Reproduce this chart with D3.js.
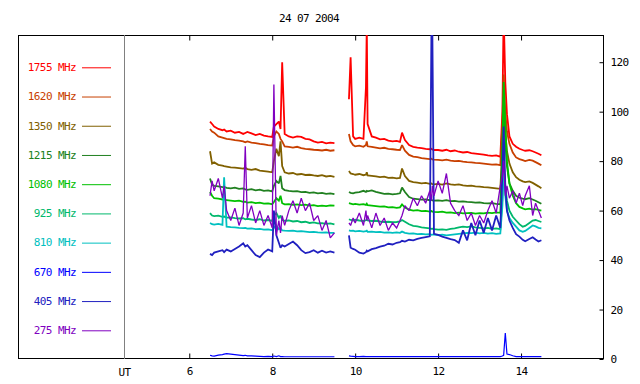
<!DOCTYPE html>
<html><head><meta charset="utf-8">
<script src="https://cdn.jsdelivr.net/npm/d3@7"></script>
<style>
body{margin:0;background:#fff}
svg text{font-family:"DejaVu Sans Mono",monospace;font-size:11px;letter-spacing:-0.6px;fill:#000}
</style>
</head><body>
<svg id="c" width="640" height="384"></svg>
<script>
const title = "24 07 2004";
const freqLabels = ["1755 MHz","1620 MHz","1350 MHz","1215 MHz","1080 MHz","925 MHz","810 MHz","670 MHz","405 MHz","275 MHz"];
const colors = ["#ff0000","#c84000","#806000","#208020","#00c000","#00b86c","#00c0c0","#0000ff","#2020c0","#8000c0"];
const xTicks = [6,8,10,12,14];
const yTicks = [0,20,40,60,80,100,120];
const axisLabel = "UT";

const timesA = [6.5,6.55,6.6,6.7,6.8,6.84,6.9,7.0,7.1,7.2,7.3,7.35,7.4,7.5,7.6,7.7,7.8,7.9,8.0,8.04,8.1,8.16,8.2,8.24,8.3,8.4,8.5,8.6,8.7,8.8,8.9,9.0,9.1,9.2,9.3,9.4,9.5];
const timesB = [9.85,9.89,9.95,10.0,10.1,10.2,10.26,10.28,10.3,10.4,10.5,10.6,10.7,10.8,10.9,11.0,11.08,11.13,11.2,11.3,11.4,11.5,11.6,11.7,11.8,11.84,11.86,11.9,12.0,12.1,12.2,12.3,12.4,12.5,12.6,12.7,12.8,12.9,13.0,13.1,13.2,13.3,13.4,13.5,13.55,13.58,13.62,13.66,13.72,13.8,13.88,13.96,14.04,14.1,14.2,14.28,14.35,14.42,14.49];

const f1755A = [96,95,94,93,92.5,92.8,92,92.3,91.5,91.8,91,91.4,91.8,91.2,90.5,91,90.3,90,89.8,94,95,96,93,120,91,90,89.5,90,89.8,89,88.8,88,87.5,87.8,87.2,87.5,87.3];
const f1755B = [105,122,90,89,89.5,89,110,135,95,90,89.5,88.8,89,88.3,88,88.2,87.8,91.5,88.5,86.5,85.8,85.5,85.3,85,84.8,85,84.7,84.5,84.5,84.2,84.6,84,84.3,83.8,83.5,83.7,83.2,83,82.8,82.6,82.3,82.1,82.3,81.8,100,140,112,99,90,87,85.8,85,84.5,84.2,84.4,84,83.5,83,82.4];

const f1620A = [93,92,91.5,90,89.5,89.3,89,88.8,88.5,88.3,88,87.6,88,87.5,87.3,87,86.8,86.5,86.3,90,92,91,89,88,86,85.8,85.5,85.8,85.3,85,84.8,84.6,84.5,84.3,84.6,84.2,84.4];
const f1620B = [91,88,86.5,86,86.3,85.8,86.5,88,86,85.8,85.5,85.2,85.4,85,84.8,84.6,84.5,86.5,84.2,82.5,81.8,81.6,81.2,81,80.8,81,80.7,80.6,80.5,80.3,80.6,80.2,80,80.1,79.8,79.6,79.5,79.3,79.2,79,78.8,78.6,78.7,78.4,95,115,100,92,87,83.5,81.5,80.8,80.4,80,80.5,80.2,79.6,79,78.3];

const f1350A = [84,79,79.5,78.5,78.2,78,77.8,77.5,77.4,77.2,77,77.3,76.8,76.5,76.8,76.2,76,75.8,75.5,80,85,82,88,78,75.5,75,75.2,74.6,74.8,74.4,74.5,74.2,74,74.3,73.8,74,73.6];
const f1350B = [76,75,74.8,74.5,74.8,74.3,74.6,75.5,74.2,74,73.8,73.5,73.7,73.2,73.3,73,73.2,77,74,72,71.5,71.3,71,71.2,70.8,71,70.7,70.6,70.8,70.5,71,70.6,70.4,70.6,70.2,70,70.1,69.8,69.7,69.5,69.4,69.2,69,68.8,85,102,92,84,79,75.5,73.5,72.5,71.8,71.5,71.8,71.2,70.5,69.8,69];

const f1215A = [73,70.5,70,69.8,69.5,69.6,69.2,69,69.3,68.8,69,68.6,68.4,68.7,68.2,68.5,68,68.2,67.8,70,72,71,74,69,68.3,68,67.8,67.9,67.5,67.6,67.2,67.4,67,67.2,66.8,67,66.7];
const f1215B = [67.5,67.2,67,67.3,67.5,68,67.6,68,67.8,68.2,67.6,67.2,66.8,66.9,66.6,66.8,67,69.3,67.5,65.5,64.8,64.6,64.4,64.5,64.2,64.4,64.1,64,64.1,63.9,64.2,63.8,63.9,63.6,63.7,63.5,63.4,63.2,63.3,63,62.9,63,62.7,62.6,85,106,88,78,71,68,66,65.2,64.8,64.6,65,64.5,64,63.4,62.8];

const f1080A = [67.5,66,65,64.8,64.5,64.6,64.2,64,63.8,64,63.5,63.6,63.2,63.4,63,63.2,62.8,62.9,62.6,63.5,65,64,66,63,62.5,62.6,62.3,62.5,62.2,62.4,62,62.2,61.8,62,61.8,62.1,62];
const f1080B = [63,62.8,62.5,62.7,62.4,62.6,62.3,62.8,62.2,62,61.8,61.6,61.7,61.3,61.4,61.1,61.3,62.5,61.2,60.4,60,60.2,59.8,59.9,59.6,59.8,59.6,59.5,59.4,59.6,59.2,59.3,59,59.2,58.9,59,59.1,58.8,59,58.9,59.2,59,59.3,59.1,80,112,95,80,71,66,63,61.5,60.9,60.5,60.8,60.4,60.6,60.3,60];

const f925A = [59,58,57.8,58,57.5,57.6,57.2,57.3,57,56.8,56.9,56.5,56.7,56.4,56.2,56.5,56,56.2,55.8,58,59,57,58,56.2,55.9,56,55.6,55.8,55.3,55.5,55,55.2,54.8,54.9,54.6,54.8,54.4];
const f925B = [56.5,56.2,56,56.3,56,55.8,56.1,56.4,56,55.8,55.9,55.6,55.4,55.5,55.3,55.4,55.6,56.2,55.5,54.5,53.8,53.6,53.2,53,52.8,52.6,52.7,52.5,52.3,52.4,52.2,52.6,52.8,53.2,53.5,53.3,53.6,53.2,53,52.8,53,52.6,52.8,52.5,65,80,70,64,60,57.5,56,54.5,53.5,53.8,55,56,56.2,55.8,55.4];

const f810A = [55,54.5,54.3,54.6,54.2,73.5,53.5,53.3,53.2,53,52.9,53,52.7,52.8,52.5,52.6,52.3,52.4,52.1,53,54,52.5,53,52,51.9,51.8,51.9,51.6,51.7,51.5,51.3,51.4,51.2,51.1,51.2,51,51];
const f810B = [52,51.8,51.9,51.6,51.8,51.5,51.7,51.9,51.4,51.5,51.3,51.4,51.1,51.2,51,51.2,51,51.5,51,50.7,50.8,50.5,50.6,50.4,50.5,50.2,50.3,50.3,50.1,50.3,50,50.2,50.4,50.6,50.8,51,50.9,51.1,50.8,51,50.7,50.9,50.6,50.8,62,77,66,60,57,55,53.5,52,51.4,51.8,53,54,53.6,53,52.8];

const f670A = [1.5,1.3,1.2,1.6,1.8,2.0,2.2,2.0,1.8,1.6,1.4,1.5,1.3,1.3,1.2,1.1,1.0,1.1,1.0,1.2,1.0,1.3,1.0,1.0,0.9,0.9,0.9,0.9,0.9,0.9,0.9,0.9,0.9,0.9,0.9,0.9,0.9];
const f670B = [1.3,1.2,1.1,1.0,1.0,1.1,1.0,1.0,1.0,1.0,1.0,1.0,1.0,1.0,1.0,1.0,1.0,1.0,1.0,1.0,1.0,1.0,1.0,1.0,1.0,1.0,1.0,1.0,1.0,1.0,1.0,1.0,1.0,1.0,1.0,1.0,1.0,1.0,1.0,1.0,1.0,1.0,1.0,1.0,1.2,1.5,10.5,2.0,1.8,1.3,1.0,1.0,1.0,1.0,1.0,1.0,1.0,1.0,1.0];

const f405A = [42.5,42,43,43.5,44,43.2,44.2,43.5,44.5,45.5,46.8,45.5,46,44,42,41.2,43,44.3,43.5,60,50,47,45,46,45.5,46.5,47.5,46,44,42.8,43.2,44,43,43.8,43,43.5,43];
const f405B = [50,45,44.5,44.2,43,42.6,43.2,43.8,43.5,44.4,44.8,45.4,45.8,46.6,46.3,47,47.2,47.8,47.5,48.2,48,48.6,49,49.3,49.6,135,135,50.6,50.2,49.5,49,48.5,48.1,47,52,48,55,50,56,51,57,52,58,53,75,94,70,60,56,53,50.5,49.5,48.2,47.6,48.5,49.2,48.3,47.5,48];

const f275A = [66,72,68,73,65,70,60,56,61,54,59,86,57,62,55,60,54,58,53,111,50,56,51,58,54,60,64,59,65,60,63,56,58,52,56,49,51];
const f275B = [55,54,57,55,59,54,60,56,58,53,59,54,57,52,55,53,56,58,62,60,65,62,66,63,68,64,70,66,72,67,75,63,60,58,62,56,59,54,58,55,60,64,59,70,74,80,66,70,65,68,63,67,62,66,70,58,63,60,57];

const segA = [f1755A,f1620A,f1350A,f1215A,f1080A,f925A,f810A,f670A,f405A,f275A];
const segB = [f1755B,f1620B,f1350B,f1215B,f1080B,f925B,f810B,f670B,f405B,f275B];
segA.forEach((a,i)=>{ if(a.length!==timesA.length) throw new Error("A len "+freqLabels[i]+" "+a.length); });
segB.forEach((b,i)=>{ if(b.length!==timesB.length) throw new Error("B len "+freqLabels[i]+" "+b.length); });

const series = freqLabels.map((name,i)=>({name, color: colors[i],
  segs: [timesA.map((t,j)=>[t, segA[i][j]]), timesB.map((t,j)=>[t, segB[i][j]])]}));

const L = 18, R = 604, T = 35, B = 359, utX = 124.5;
const svg = d3.select("#c");
const x = d3.scaleLinear().domain([1.87, 16]).range([L, R]);
const y = d3.scaleLinear().domain([0, 131]).range([B, T]);

svg.append("defs").append("clipPath").attr("id","clip")
  .append("rect").attr("x",L).attr("y",T).attr("width",R-L).attr("height",B-T);

svg.append("text").attr("x",309).attr("y",22).attr("text-anchor","middle").text(title);

svg.append("rect").attr("x",L+0.5).attr("y",T+0.5).attr("width",R-L-1).attr("height",B-T-1)
  .attr("fill","none").attr("stroke","#000");
svg.append("line").attr("x1",utX).attr("x2",utX).attr("y1",T).attr("y2",B)
  .attr("stroke","#808080");

const gb = svg.append("g").attr("transform",`translate(0,${B-0.5})`)
  .call(d3.axisBottom(x).tickValues(xTicks).tickSize(-5).tickPadding(9).tickFormat(d3.format("d")));
const gt = svg.append("g").attr("transform",`translate(0,${T+0.5})`)
  .call(d3.axisTop(x).tickValues(xTicks).tickSize(-5).tickFormat(""));
const gr = svg.append("g").attr("transform",`translate(${R-0.5},0)`)
  .call(d3.axisRight(y).tickValues(yTicks).tickSize(-4).tickPadding(7));
[gb,gt,gr].forEach(g=>{
  g.select(".domain").remove();
  g.attr("font-family",null).attr("font-size",null);
  g.selectAll("line").attr("stroke","#000");
  g.selectAll("text").attr("fill","#000");
});
svg.append("text").attr("x",utX).attr("y",B+9).attr("dy","0.71em").attr("text-anchor","middle").text(axisLabel);

const line = d3.line().x(d=>x(d[0])).y(d=>y(d[1]));
const plot = svg.append("g").attr("clip-path","url(#clip)");
series.forEach((s,i)=>{
  const w = i === 9 ? 1.3 : (i === 7 ? 1.2 : 1.8);
  s.segs.forEach(seg=>{
    plot.append("path").datum(seg).attr("d",line)
      .attr("fill","none").attr("stroke",s.color).attr("stroke-width",w)
      .attr("stroke-linejoin","miter").attr("stroke-miterlimit",2);
  });
});

const ly = d3.scalePoint().domain(freqLabels).range([67.3, 330.3]);
const lg = svg.append("g");
series.forEach(s=>{
  lg.append("text").attr("x",76).attr("y",ly(s.name)).attr("dy","0.35em")
    .attr("text-anchor","end").style("fill",s.color).text(s.name);
  lg.append("line").attr("x1",82).attr("x2",111).attr("y1",ly(s.name)+0.5).attr("y2",ly(s.name)+0.5)
    .attr("stroke",s.color);
});
</script>
</body></html>
